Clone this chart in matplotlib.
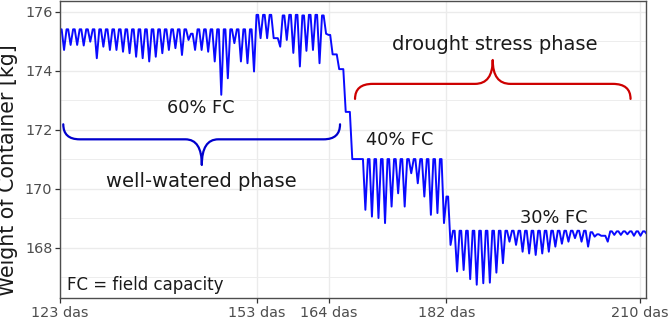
import matplotlib
matplotlib.use('Agg')
import matplotlib.pyplot as plt
from matplotlib.path import Path
from matplotlib.patches import PathPatch

# Container weight, one top (after watering) and one low value per day, from 123 das on
start_das = 123
day_top = [175.40] * 20 + [175.25] + [175.40] * 9 \
    + [175.89, 175.89, 175.89, 175.10, 175.87, 175.89, 175.89, 175.87, 175.89, 175.89] \
    + [175.87, 175.21, 174.55, 174.05, 172.60, 171.00] \
    + [171.00] * 13 \
    + [169.73] \
    + [168.57] * 21 + [168.52, 168.45, 168.40] + [168.55] * 6
day_min = [174.70, 174.87, 174.87, 174.85, 174.98, 174.42, 174.81, 174.70, 174.70, 174.64,
           174.59, 174.47, 174.42, 174.31, 174.47, 174.59, 174.70, 174.76, 174.53, 175.04,
           174.70, 174.70, 174.64, 174.31, 173.18, 173.74, 174.93, 174.31, 174.25, 173.97,
           175.10, 175.10, 175.10, 174.81, 175.04, 174.60, 174.14, 174.67, 174.70, 174.25,
           175.25, 174.55, 174.05, 172.60, 171.00, 171.00,
           169.28, 169.05, 169.00, 168.83, 169.39, 169.84, 169.39, 170.52, 170.18, 169.73,
           169.11, 169.17, 168.83,
           168.09,
           167.19, 167.24, 166.93, 166.74, 166.79, 166.81, 167.15, 167.47, 168.20, 168.09,
           167.86, 167.80, 167.75, 167.80, 167.86, 168.03, 168.13, 168.20, 168.32, 168.20,
           168.03, 168.37, 168.40, 168.20, 168.43, 168.43, 168.45, 168.40,
           168.40, 168.45]

tick_pos = [123, 153, 164, 182, 211.5]
tick_labels = ['123 das', '153 das', '164 das', '182 das', '210 das']


def draw_brace(ax, x0, x1, xc, y_end, y_arm, y_tip, rx, color):
    verts = [(x0, y_end), (x0, y_arm), (x0 + rx, y_arm),
             (xc - rx, y_arm), (xc, y_arm), (xc, y_tip),
             (xc, y_arm), (xc + rx, y_arm),
             (x1 - rx, y_arm), (x1, y_arm), (x1, y_end)]
    codes = [Path.MOVETO, Path.CURVE3, Path.CURVE3,
             Path.LINETO, Path.CURVE3, Path.CURVE3,
             Path.CURVE3, Path.CURVE3,
             Path.LINETO, Path.CURVE3, Path.CURVE3]
    ax.add_patch(PathPatch(Path(verts, codes), fill=False, edgecolor=color,
                           lw=1.6, capstyle='round', joinstyle='round'))


# build the daily course: top in the morning, low in the afternoon
t, w = [], []
for i, (hi, lo) in enumerate(zip(day_top, day_min)):
    d = start_das + i
    t += [d, d + 0.25, d + 0.62]
    w += [hi, hi, lo]
t.append(start_das + len(day_top))
w.append(day_top[-1])

fig = plt.figure(figsize=(6.69, 3.21), dpi=100)
ax = fig.add_axes([60 / 669, 23 / 321, 586 / 669, 297 / 321])

ax.plot(t, w, color='#0A0AFF', lw=1.4, solid_joinstyle='round')

ax.set_xlim(123, 212.46)
ax.set_ylim(166.29, 176.36)
ax.set_xticks(tick_pos, tick_labels)
ax.set_yticks([168, 170, 172, 174, 176])
ax.set_yticks([167, 169, 171, 173, 175], minor=True)
ax.grid(which='major', color='#EBEBEB', lw=1.0)
ax.grid(which='minor', axis='y', color='#EDEDED', lw=0.7)
ax.set_axisbelow(True)
for s in ax.spines.values():
    s.set_color('#4D4D4D')
    s.set_linewidth(1.0)
ax.tick_params(which='major', direction='out', length=3.5, width=0.9, color='#333333',
               labelcolor='#4D4D4D', labelsize=10.4, pad=2)
ax.tick_params(which='minor', length=0)

fig.text(8.5 / 669, 1 - 169.7 / 321, 'Weight of Container [kg]', rotation=90,
         ha='center', va='center', fontsize=14.8, color='#1A1A1A')

# phase braces
draw_brace(ax, 123.5, 165.75, 144.65, 172.18, 171.67, 170.8, 2.5, '#0000CD')
draw_brace(ax, 168.04, 210.1, 189.06, 173.04, 173.55, 174.36, 2.7, '#CD0000')

txt = dict(va='baseline', color='#1A1A1A')
ax.text(144.5, 172.56, '60% FC', ha='center', fontsize=12.8, **txt)
ax.text(174.9, 171.48, '40% FC', ha='center', fontsize=12.8, **txt)
ax.text(198.4, 168.83, '30% FC', ha='center', fontsize=12.8, **txt)
ax.text(124.0, 166.57, 'FC = field capacity', ha='left', fontsize=12, **txt)
ax.text(144.5, 170.05, 'well-watered phase', ha='center', fontsize=14, **txt)
ax.text(189.3, 174.70, 'drought stress phase', ha='center', fontsize=14, **txt)

fig.savefig('out.png', dpi=100)
plt.close(fig)
